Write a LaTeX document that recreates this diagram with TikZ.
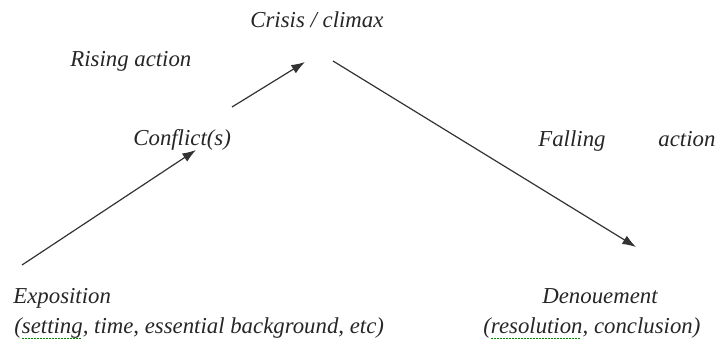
\documentclass[tikz,border=0pt]{standalone}
\usepackage{fontspec}
\setmainfont{Liberation Serif}
\usetikzlibrary{arrows.meta}

\newsavebox\spellbox
\newcommand\spellchk[1]{\sbox\spellbox{#1}\rlap{\color{green!55!black}\hbox to \wd\spellbox{\leaders\hbox{\rule[-0.55ex]{1pt}{0.45pt}\kern0.5pt}\hfill}}\usebox\spellbox}

\begin{document}
\begin{tikzpicture}[
  x=0.5pt,y=-0.5pt,
  stage/.style={anchor=base west,inner sep=0pt,font=\fontsize{11.4}{13}\selectfont\itshape,text=black!85},
  arc/.style={-{Latex[length=2.4mm,width=1.7mm]},draw=black!80,line width=.6pt}
]
\useasboundingbox (0,0) rectangle (717,349);

\node[stage] (crisis) at (250,27) {Crisis / climax};
\node[stage] (rising) at (70,66) {Rising action};
\node[stage] (conflict) at (133,145) {Conflict(s)};
\node[stage] (falling) at (538,146) {\makebox[88.5pt][s]{Falling action}};
\node[stage] (expo) at (13,303) {Exposition};
\node[stage] (expoinfo) at (14,333) {(\spellchk{setting}, time, essential background, etc)};
\node[stage] (denoue) at (542,303) {Denouement};
\node[stage] (denoueinfo) at (483,333) {(\spellchk{resolution}, conclusion)};

% arrow ends
\coordinate (a1) at (22,265);
\coordinate (b1) at (196,150);
\coordinate (a2) at (232,107);
\coordinate (b2) at (305,62);
\coordinate (a3) at (333,61);
\coordinate (b3) at (636,247);

\draw[arc] (a1) -- (b1);
\draw[arc] (a2) -- (b2);
\draw[arc] (a3) -- (b3);
\end{tikzpicture}
\end{document}
